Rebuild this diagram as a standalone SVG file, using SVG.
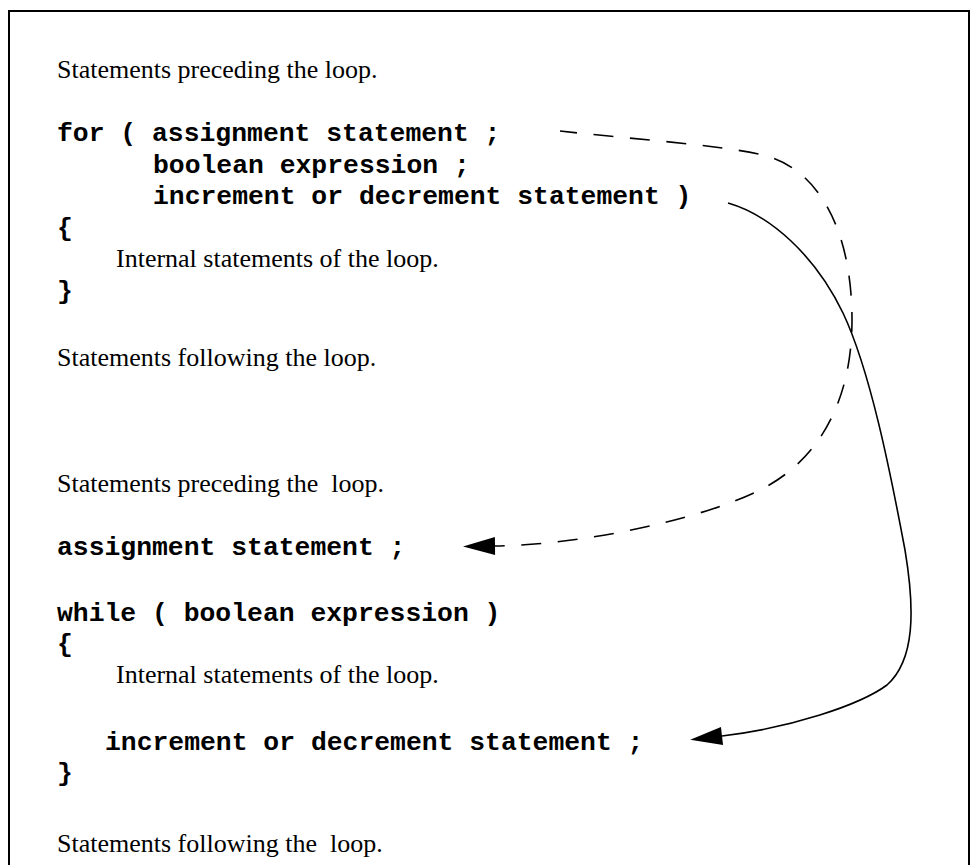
<svg xmlns="http://www.w3.org/2000/svg" width="970" height="865" viewBox="0 0 970 865">
<style>
.s{font-family:"Liberation Serif","Times New Roman",serif;font-size:26px;fill:#000;white-space:pre}
.m{font-family:"Liberation Mono","Courier New",monospace;font-size:26.4px;font-weight:bold;fill:#000;white-space:pre}
.c{fill:none;stroke:#000;stroke-width:1.6}
.d{stroke-dasharray:20 16.5;stroke-dashoffset:10}
</style>
<defs>
<marker id="ah" markerUnits="userSpaceOnUse" markerWidth="34" markerHeight="20" refX="0" refY="9" orient="auto-start-reverse" viewBox="0 0 34 20" overflow="visible">
<path d="M0,0 L32,9 L0,18 z" fill="#000" stroke="none"/>
</marker>
</defs>
<rect x="9" y="11" width="960" height="880" fill="none" stroke="#000" stroke-width="2"/>
<g id="for-loop">
<text class="s" x="57" y="78">Statements preceding the loop.</text>
<text class="m" x="57" y="141">for ( assignment statement ;</text>
<text class="m" x="153" y="173">boolean expression ;</text>
<text class="m" x="153" y="204">increment or decrement statement )</text>
<text class="m" x="57" y="236">{</text>
<text class="s" x="116" y="267">Internal statements of the loop.</text>
<text class="m" x="57" y="299">}</text>
<text class="s" x="57" y="366">Statements following the loop.</text>
</g>
<g id="while-loop">
<text class="s" x="57" y="492">Statements preceding the  loop.</text>
<text class="m" x="57" y="555">assignment statement ;</text>
<text class="m" x="57" y="621">while ( boolean expression )</text>
<text class="m" x="57" y="652">{</text>
<text class="s" x="116" y="683">Internal statements of the loop.</text>
<text class="m" x="105" y="750">increment or decrement statement ;</text>
<text class="m" x="57" y="781">}</text>
<text class="s" x="57" y="852">Statements following the  loop.</text>
</g>
<g id="connectors">
<path class="c d" marker-start="url(#ah)" d="M495,546 C580,545 700,520 760,490 C820,460 852,400 852,320 C852,240 825,175 770,157 C735,146 640,140 560,131"/>
<path class="c" marker-end="url(#ah)" d="M728,203 C770,215 815,255 843,313 C870,370 890,470 905,550 C915,610 915,660 887,685 C860,705 790,728 722,736"/>
</g>
</svg>
